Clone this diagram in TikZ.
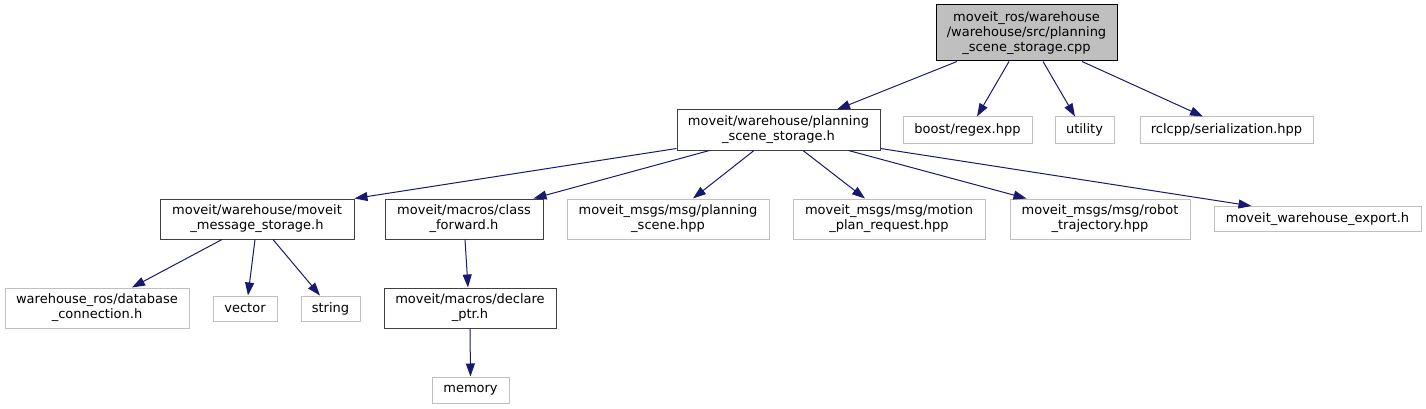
\documentclass[tikz,border=0pt]{standalone}
\usepackage{fontspec}
\setmainfont{DejaVu Sans}
\usetikzlibrary{arrows.meta}
\definecolor{edgeblue}{HTML}{191970}
\definecolor{grayline}{HTML}{BFBFBF}
\definecolor{darkline}{HTML}{404040}
\definecolor{rootfill}{HTML}{BFBFBF}
\tikzset{
  box/.style={rectangle, inner sep=0pt, align=center, line width=1pt,
    font=\fontsize{13}{15}\selectfont},
  doc/.style={box, draw=darkline, fill=white},
  ext/.style={box, draw=grayline, fill=white},
  rootbox/.style={box, draw=black, fill=rootfill},
  dep/.style={draw=edgeblue, line width=1pt,
    -{Triangle[length=13pt,width=9pt]}, shorten >=0pt},
}
\begin{document}
\begin{tikzpicture}[x=1pt,y=-1pt]
\useasboundingbox (0,0) rectangle (1426,409);
\fill[white] (0,0) rectangle (1426,409);
% row 0
\node[rootbox, minimum width=181pt, minimum height=56pt] (root) at (1026.5,33)
  {moveit\_ros/warehouse\\/warehouse/src/planning\\\_scene\_storage.cpp};
% row 1
\node[doc, minimum width=203pt, minimum height=40pt] (pss) at (778.5,130)
  {moveit/warehouse/planning\\\_scene\_storage.h};
\node[ext, minimum width=129pt, minimum height=26pt] (boost) at (967.5,130) {boost/regex.hpp};
\node[ext, minimum width=59pt, minimum height=26pt] (utility) at (1084.5,130) {utility};
\node[ext, minimum width=173pt, minimum height=26pt] (rclcpp) at (1226.5,130) {rclcpp/serialization.hpp};
% row 2
\node[doc, minimum width=194pt, minimum height=40pt] (mms) at (257,219)
  {moveit/warehouse/moveit\\\_message\_storage.h};
\node[doc, minimum width=158pt, minimum height=40pt] (cf) at (464,219)
  {moveit/macros/class\\\_forward.h};
\node[ext, minimum width=202pt, minimum height=40pt] (ps) at (668,219)
  {moveit\_msgs/msg/planning\\\_scene.hpp};
\node[ext, minimum width=192pt, minimum height=40pt] (mpr) at (889,219)
  {moveit\_msgs/msg/motion\\\_plan\_request.hpp};
\node[ext, minimum width=180pt, minimum height=40pt] (rt) at (1100,219)
  {moveit\_msgs/msg/robot\\\_trajectory.hpp};
\node[ext, minimum width=207pt, minimum height=25pt] (exp) at (1317.5,219)
  {moveit\_warehouse\_export.h};
% row 3
\node[ext, minimum width=184pt, minimum height=40pt] (db) at (97,308)
  {warehouse\_ros/database\\\_connection.h};
\node[ext, minimum width=64pt, minimum height=25pt] (vector) at (245,308.5) {vector};
\node[ext, minimum width=59pt, minimum height=25pt] (string) at (330.5,308.5) {string};
\node[doc, minimum width=172pt, minimum height=40pt] (decl) at (470,308)
  {moveit/macros/declare\\\_ptr.h};
% row 4
\node[ext, minimum width=77pt, minimum height=26pt] (memory) at (470.5,390) {memory};
% edges
\draw[dep] ([xshift=-69.5pt]root.south) -- ([xshift=58.5pt]pss.north);
\draw[dep] ([xshift=-17.5pt]root.south) -- ([xshift=9.5pt]boost.north);
\draw[dep] ([xshift=16.5pt]root.south) -- ([xshift=-9.5pt]utility.north);
\draw[dep] ([xshift=55.5pt]root.south) -- ([xshift=-23.5pt]rclcpp.north);
\draw[dep] ([yshift=2pt]pss.south west) -- (mms.north east);
\draw[dep] ([xshift=33pt]pss.south west) -- ([xshift=-10pt]cf.north east);
\draw[dep] ([xshift=-24.5pt]pss.south) -- ([xshift=25pt]ps.north);
\draw[dep] ([xshift=24.5pt]pss.south) -- ([xshift=-24pt]mpr.north);
\draw[dep] ([xshift=-32pt]pss.south east) -- ([xshift=17pt]rt.north west);
\draw[dep] ([yshift=2pt]pss.south east) -- ([xshift=38pt]exp.north west);
\draw[dep] ([xshift=-35pt]mms.south) -- ([xshift=35pt]db.north);
\draw[dep] ([xshift=-2pt]mms.south) -- ([xshift=3pt]vector.north);
\draw[dep] ([xshift=16pt]mms.south) -- ([xshift=-10.5pt]string.north);
\draw[dep] ([xshift=1pt]cf.south) -- ([xshift=-2pt]decl.north);
\draw[dep] (decl.south) -- (memory.north);
\end{tikzpicture}
\end{document}
